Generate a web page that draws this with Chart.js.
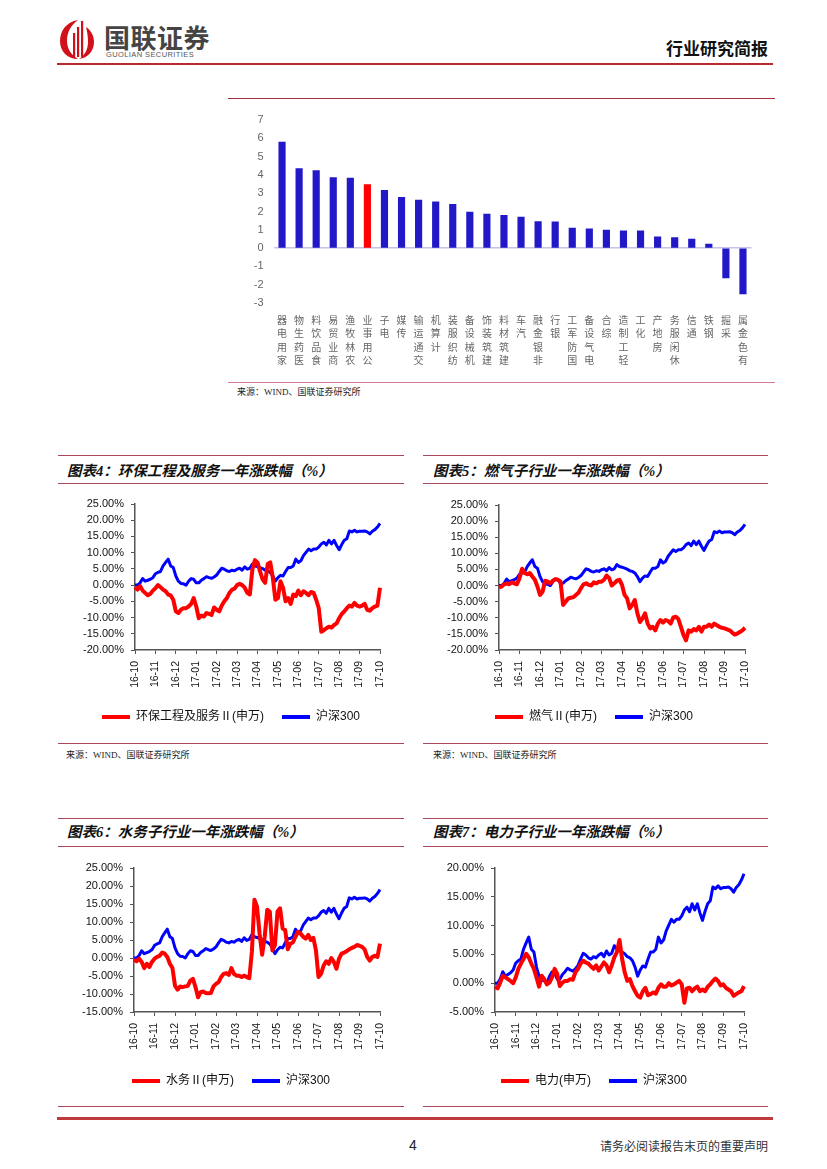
<!DOCTYPE html>
<html>
<head>
<meta charset="utf-8">
<script src="https://cdn.jsdelivr.net/npm/chart.js@4.4.0/dist/chart.umd.min.js"></script>
<style>
  body { margin: 0; background: #fff; }
  #page { position: relative; width: 827px; height: 1169px; overflow: hidden;
          font-family: "Liberation Sans", "Noto Sans CJK SC", sans-serif; }
  .rule { position: absolute; height: 1px; background: #a8485a; }
  .title { position: absolute; font-family: "Liberation Serif", "Noto Sans CJK SC", serif;
           font-weight: bold; font-style: italic; font-size: 14.5px; line-height: 18px;
           color: #111; white-space: nowrap; }
  .src { position: absolute; font-family: "Liberation Serif", "Noto Sans CJK SC", serif;
         font-size: 9px; line-height: 12px; color: #222; white-space: nowrap; }
  .box { position: absolute; }
</style>
</head>
<body>
<div id="page">
  <!-- 页眉 -->
  <svg style="position:absolute;left:58px;top:17px" width="40" height="44" viewBox="0 0 40 44">
    <path d="M20 3 C8 5 2 14 2 24 C2 35 10 42 20 42 C13 38 9 31 9 24 C9 15 13 8 20 3 Z" fill="#d0111b"/>
    <rect x="15" y="16" width="2.2" height="24" fill="#d0111b"/>
    <rect x="19" y="10" width="2.2" height="30" fill="#d0111b"/>
    <rect x="23" y="4" width="2.2" height="36" fill="#d0111b"/>
    <path d="M28 10 C34 14 36 20 36 25 C36 34 30 41 21 42 C27 38 30 32 30 25 C30 19 29 14 28 10 Z" fill="#d0111b"/>
  </svg>
  <div class="box" style="left:104px;top:22px;font-size:26px;font-weight:bold;color:#444;letter-spacing:0.5px;font-family:'Noto Sans CJK SC',sans-serif;line-height:30px">国联证券</div>
  <div class="box" style="left:106px;top:50px;font-size:7.5px;color:#555;letter-spacing:0.4px;line-height:9px">GUOLIAN SECURITIES</div>
  <div class="box" style="right:59px;top:38px;font-size:17px;font-weight:bold;color:#111;font-family:'Noto Sans CJK SC',sans-serif;line-height:20px">行业研究简报</div>
  <div class="rule" style="left:57px;top:63px;width:716px;height:2px;background:#b8282e"></div>

  <!-- 行业周涨跌幅 -->
  <div class="rule" style="left:228px;top:98px;width:547px;background:#a33040"></div>
  <div class="box" style="left:228px;top:100px;width:547px;height:280px"><canvas id="barChart"></canvas></div>
  <div class="rule" style="left:228px;top:382px;width:547px;background:#d57a90"></div>
  <div class="src" style="left:237px;top:386px">来源：WIND、国联证券研究所</div>

  <!-- 图表4 -->
  <div class="rule" style="left:58px;top:455px;width:346px"></div>
  <div class="title" style="left:67px;top:462px">图表4：环保工程及服务一年涨跌幅（%）</div>
  <div class="rule" style="left:58px;top:483px;width:346px"></div>
  <div class="box" style="left:57px;top:490px;width:348px;height:243px"><canvas id="chart4"></canvas></div>
  <div class="rule" style="left:58px;top:743px;width:346px"></div>
  <div class="src" style="left:66px;top:749px">来源：WIND、国联证券研究所</div>

  <!-- 图表5 -->
  <div class="rule" style="left:423px;top:455px;width:345px"></div>
  <div class="title" style="left:433px;top:462px">图表5：燃气子行业一年涨跌幅（%）</div>
  <div class="rule" style="left:423px;top:483px;width:345px"></div>
  <div class="box" style="left:420px;top:491px;width:348px;height:242px"><canvas id="chart5"></canvas></div>
  <div class="rule" style="left:423px;top:743px;width:345px"></div>
  <div class="src" style="left:433px;top:749px">来源：WIND、国联证券研究所</div>

  <!-- 图表6 -->
  <div class="rule" style="left:58px;top:818px;width:346px"></div>
  <div class="title" style="left:67px;top:823px">图表6：水务子行业一年涨跌幅（%）</div>
  <div class="rule" style="left:58px;top:846px;width:346px"></div>
  <div class="box" style="left:57px;top:854px;width:348px;height:243px"><canvas id="chart6"></canvas></div>
  <div class="rule" style="left:58px;top:1106px;width:346px"></div>

  <!-- 图表7 -->
  <div class="rule" style="left:423px;top:818px;width:345px"></div>
  <div class="title" style="left:433px;top:823px">图表7：电力子行业一年涨跌幅（%）</div>
  <div class="rule" style="left:423px;top:846px;width:345px"></div>
  <div class="box" style="left:420px;top:854px;width:348px;height:243px"><canvas id="chart7"></canvas></div>
  <div class="rule" style="left:423px;top:1106px;width:345px"></div>

  <!-- 页脚 -->
  <div class="rule" style="left:57px;top:1117px;width:716px;height:3px;background:#c0393f"></div>
  <div class="box" style="left:409px;top:1137px;font-size:14px;color:#222;line-height:16px">4</div>
  <div class="box" style="right:59px;top:1138px;font-size:12px;color:#333;line-height:15px;font-family:'Noto Sans CJK SC',sans-serif">请务必阅读报告末页的重要声明</div>
</div>

<script>
// 行业涨跌幅（%）
const industries = ['家用电器', '医药生物', '食品饮料', '商业贸易', '农林牧渔', '公用事业', '电子', '传媒',
  '交通运输', '计算机', '纺织服装', '机械设备', '建筑装饰', '建筑材料', '汽车', '非银金融', '银行',
  '国防军工', '电气设备', '综合', '轻工制造', '化工', '房地产', '休闲服务', '通信', '钢铁', '采掘', '有色金属'];
const industryChange = [5.79, 4.34, 4.23, 3.85, 3.82, 3.47, 3.16, 2.77, 2.62, 2.53, 2.39, 1.97, 1.86, 1.79,
  1.70, 1.45, 1.43, 1.10, 1.05, 0.98, 0.94, 0.94, 0.61, 0.58, 0.49, 0.22, -1.63, -2.50];
const highlight = '公用事业';

// 月份刻度（每月 8 个采样点）
const months = ['16-10', '16-11', '16-12', '17-01', '17-02', '17-03', '17-04', '17-05', '17-06', '17-07', '17-08', '17-09', '17-10'];
const perMonth = 8;

// 沪深300
const hs300 = [0, 0, 0.7, 2.0, 1.2, 1.5, 1.8, 2.3, 3.5, 3.9, 4.2, 5.9, 7.0, 8.0, 5.9, 5.4,
  2.8, 1.2, 0.5, 0.4, 0, 1.2, 2.0, 1.8, 0.7, 0.7, 1.5, 2.0, 2.6, 2.3, 2.1, 2.5,
  3.1, 4.2, 5.2, 4.9, 4.4, 4.2, 4.6, 4.4, 4.9, 5.2, 4.6, 5.6, 4.9, 5.2, 6.5, 5.9,
  5.7, 5.4, 5.1, 4.6, 4.4, 3.9, 2.8, 1.2, 2.3, 3.0, 2.8, 4.2, 5.4, 5.4, 5.9, 8.0,
  7.0, 7.5, 9.1, 10.1, 11.1, 10.6, 11.1, 11.1, 11.7, 12.7, 13.2, 12.4, 13.8, 12.7, 13.8, 12.2,
  10.9, 12.5, 13.8, 14.3, 16.7, 16.4, 16.9, 16.4, 16.6, 16.6, 16.7, 16.4, 15.8, 16.6, 17.1, 17.9, 19.0];

// 环保工程及服务II
const envEng = [-0.6, -1.4, -0.3, -1.7, -2.4, -3.1, -2.7, -1.7, -1.0, 0, -0.6, -1.4, -1.9, -2.9, -3.2, -4.5,
  -8.1, -8.6, -7.6, -7.1, -7.1, -6.6, -5.8, -4.0, -6.6, -10.2, -9.4, -9.7, -8.6, -8.9, -9.2, -6.9,
  -7.6, -8.1, -6.3, -5.0, -4.0, -2.4, -1.4, -1.1, 0, 0.4, 0, -0.8, -2.4, -2.9, 4.9, 7.7,
  7.0, 4.2, 1.8, 0.7, 6.5, 7.0, 2.3, -4.5, -4.0, 1.2, -0.8, -5.0, -4.0, -5.8, -2.9, -3.4,
  -1.7, -3.1, -1.9, -2.4, -3.1, -2.1, -2.4, -4.5, -7.1, -14.4, -13.9, -13.3, -12.8, -13.1, -12.3, -11.8,
  -10.2, -8.9, -8.1, -7.1, -6.3, -6.6, -5.5, -6.3, -6.6, -6.3, -5.8, -7.6, -7.9, -7.1, -6.6, -6.3, -0.8];

// 燃气II
const gas = [-0.6, -0.3, 0.4, 0.7, 0.4, 1.0, 0.7, 0.4, 2.3, 5.2, 3.9, 3.5, 3.9, 2.8, 1.8, -0.3,
  -2.9, -1.9, 1.5, 1.2, 0.7, 1.5, 2.0, 1.8, 1.2, -6.0, -5.0, -4.0, -3.8, -3.6, -2.9, -2.2,
  -0.8, 0.4, 0.7, 0.2, 0, 1.0, 0.7, 1.2, 1.2, 1.8, 3.1, 2.3, 0, 0.7, 1.5, 1.8,
  0.2, -2.9, -4.0, -7.1, -6.0, -4.5, -8.6, -11.3, -10.2, -8.6, -11.8, -13.3, -12.8, -13.9, -11.8, -10.7,
  -11.5, -10.7, -11.0, -11.8, -9.9, -9.7, -10.4, -12.8, -15.4, -17.0, -13.9, -14.3, -13.5, -13.9, -12.8, -14.3,
  -12.8, -12.8, -12.1, -12.8, -11.8, -12.3, -12.8, -13.1, -13.3, -13.6, -13.9, -14.6, -15.2, -14.9, -14.4, -13.9, -13.1];

// 水务II
const water = [-0.4, -0.9, -0.2, -1.1, -2.8, -1.6, -2.5, -1.1, -0.2, 0.3, 0.6, 1.5, 1.2, 0.3, -1.6, -2.8,
  -7.7, -8.8, -7.9, -8.1, -7.9, -7.7, -6.3, -5.8, -8.1, -10.9, -9.5, -9.3, -9.7, -9.8, -9.7, -7.9,
  -7.2, -6.7, -5.3, -4.4, -4.2, -4.7, -2.8, -4.4, -4.9, -4.9, -5.3, -4.9, -5.3, -5.6, 1.7, 16.2,
  14.3, 6.8, 0.9, 5.9, 13.4, 12.9, 2.1, 3.6, 12.9, 13.8, 8.2, 7.8, 2.4, 4.0, 4.3, 5.9,
  7.3, 6.8, 5.9, 5.4, 6.4, 5.0, 5.6, 2.1, -5.3, -4.4, -2.1, -0.9, -1.6, 0, -1.1, -3.0,
  -0.2, 1.2, 1.5, 1.9, 2.4, 2.8, 3.1, 3.6, 3.4, 3.1, 2.4, 0.3, -0.7, 0.3, 0.6, 0.3, 4.0];

// 电力
const power = [-0.6, -0.9, 0.1, 1.3, 1.0, 0.7, 0.4, 0, 1.0, 2.5, 3.4, 4.2, 5.1, 4.5, 3.4, 2.5,
  1.0, -0.6, 1.3, 0.7, -0.2, 0.1, 1.0, 2.5, 1.6, -0.5, 0.1, 0.4, 0.4, 0.7, 0.6, 1.9,
  2.5, 3.4, 3.9, 3.6, 3.4, 2.9, 2.5, 3.1, 2.2, 2.9, 3.6, 3.1, 1.9, 3.1, 4.5, 5.4,
  7.5, 4.2, 1.9, 0.4, 0.7, -0.5, -1.4, -2.2, -2.5, -1.4, -0.8, -2.1, -1.9, -1.6, -1.8, -0.8,
  -0.2, -0.6, -0.6, 0, -0.4, -0.2, 0.1, 0.4, -0.2, -3.4, -0.9, -0.8, -1.4, -0.9, -0.6, -1.4,
  -1.1, -1.4, -0.6, -0.2, 0.4, 0.8, 0.4, -0.4, -0.2, -0.8, -1.1, -1.4, -2.2, -1.9, -1.6, -1.4, -0.5];

Chart.defaults.font.family = '"Liberation Sans", "Noto Sans CJK SC", sans-serif';

// x 轴标签：每月第一个点显示月份
const dayLabels = [];
months.forEach(function(m, i) {
  if (i === months.length - 1) { dayLabels.push(m); return; }
  for (let s = 0; s < perMonth; s++) dayLabels.push(s === 0 ? m : '');
});

// 柱状图
new Chart(document.getElementById('barChart'), {
  type: 'bar',
  data: {
    labels: industries.map(s => s.split('').reverse()),
    datasets: [{
      data: industryChange,
      backgroundColor: industries.map(s => s === highlight ? '#ff0000' : '#2218c8'),
      barThickness: 6.5
    }]
  },
  options: {
    responsive: true,
    maintainAspectRatio: false,
    animation: false,
    layout: { padding: { top: 20, right: 23.5, left: 0, bottom: 0 } },
    plugins: { legend: { display: false }, tooltip: { enabled: false } },
    scales: {
      x: {
        grid: { display: false, drawTicks: false },
        border: { display: false },
        ticks: {
          autoSkip: false, maxRotation: 0, minRotation: 0, padding: 10, color: '#666',
          font: { size: 10, lineHeight: 1.35, family: '"Noto Sans CJK SC", sans-serif' }
        },
        afterFit: function(s) { s.height = 77; }
      },
      y: {
        min: -3,
        max: 7,
        ticks: { stepSize: 1, autoSkip: false, padding: 10, color: '#666', font: { size: 11 } },
        grid: {
          drawTicks: false,
          lineWidth: 1.5,
          color: c => (c.tick && c.tick.value === 0) ? '#c4c4ea' : 'rgba(0,0,0,0)'
        },
        border: { display: false },
        afterFit: function(s) { s.width = 45.5; }
      }
    }
  }
});

// 折线图
function lineChart(id, redName, redValues, yMin, yMax, yW, yRW, xH) {
  new Chart(document.getElementById(id), {
    type: 'line',
    data: {
      labels: dayLabels,
      datasets: [
        { label: redName, data: redValues, borderColor: '#ff0000', backgroundColor: '#ff0000',
          borderWidth: 4, pointRadius: 0, tension: 0, borderJoinStyle: 'round' },
        { label: '沪深300', data: hs300, borderColor: '#0000ff', backgroundColor: '#0000ff',
          borderWidth: 3, pointRadius: 0, tension: 0, borderJoinStyle: 'round' }
      ]
    },
    options: {
      responsive: true,
      maintainAspectRatio: false,
      animation: false,
      layout: { padding: { top: 14, left: 0, right: 0, bottom: 0 } },
      plugins: {
        tooltip: { enabled: false },
        legend: {
          position: 'bottom',
          labels: {
            boxWidth: 28, boxHeight: 4, padding: 18, color: '#111', font: { size: 12 },
            generateLabels: function(chart) {
              return Chart.defaults.plugins.legend.labels.generateLabels(chart)
                .map(l => Object.assign(l, { lineWidth: 0 }));
            }
          }
        }
      },
      scales: {
        x: {
          grid: {
            drawOnChartArea: false, tickLength: 4,
            color: c => dayLabels[c.index] ? '#555' : 'rgba(0,0,0,0)'
          },
          border: { color: '#555', width: 1.5 },
          ticks: {
            autoSkip: false, maxRotation: 90, minRotation: 90, padding: 7, color: '#111',
            font: { size: 10.5 },
            callback: (v, i) => dayLabels[i]
          },
          afterFit: function(s) { s.height = xH; }
        },
        y: {
          min: yMin,
          max: yMax,
          ticks: { stepSize: 5, autoSkip: false, padding: 7, color: '#111', font: { size: 11 },
                   callback: v => v.toFixed(2) + '%' },
          grid: { drawOnChartArea: false, tickLength: 4, color: '#555' },
          border: { color: '#555', width: 1.5 },
          afterFit: function(s) { s.width = yW; }
        },
        yR: {
          position: 'right',
          ticks: { display: false },
          grid: { display: false },
          border: { display: false },
          afterFit: function(s) { s.width = yRW; }
        }
      }
    }
  });
}

lineChart('chart4', '环保工程及服务Ⅱ(申万)', envEng, -20, 25, 78, 25, 43);
lineChart('chart5', '燃气Ⅱ(申万)', gas, -20, 25, 79, 23, 43);
lineChart('chart6', '水务Ⅱ(申万)', water, -15, 25, 77, 25, 45);
lineChart('chart7', '电力(申万)', power, -5, 20, 75, 24, 45);
</script>
</body>
</html>
